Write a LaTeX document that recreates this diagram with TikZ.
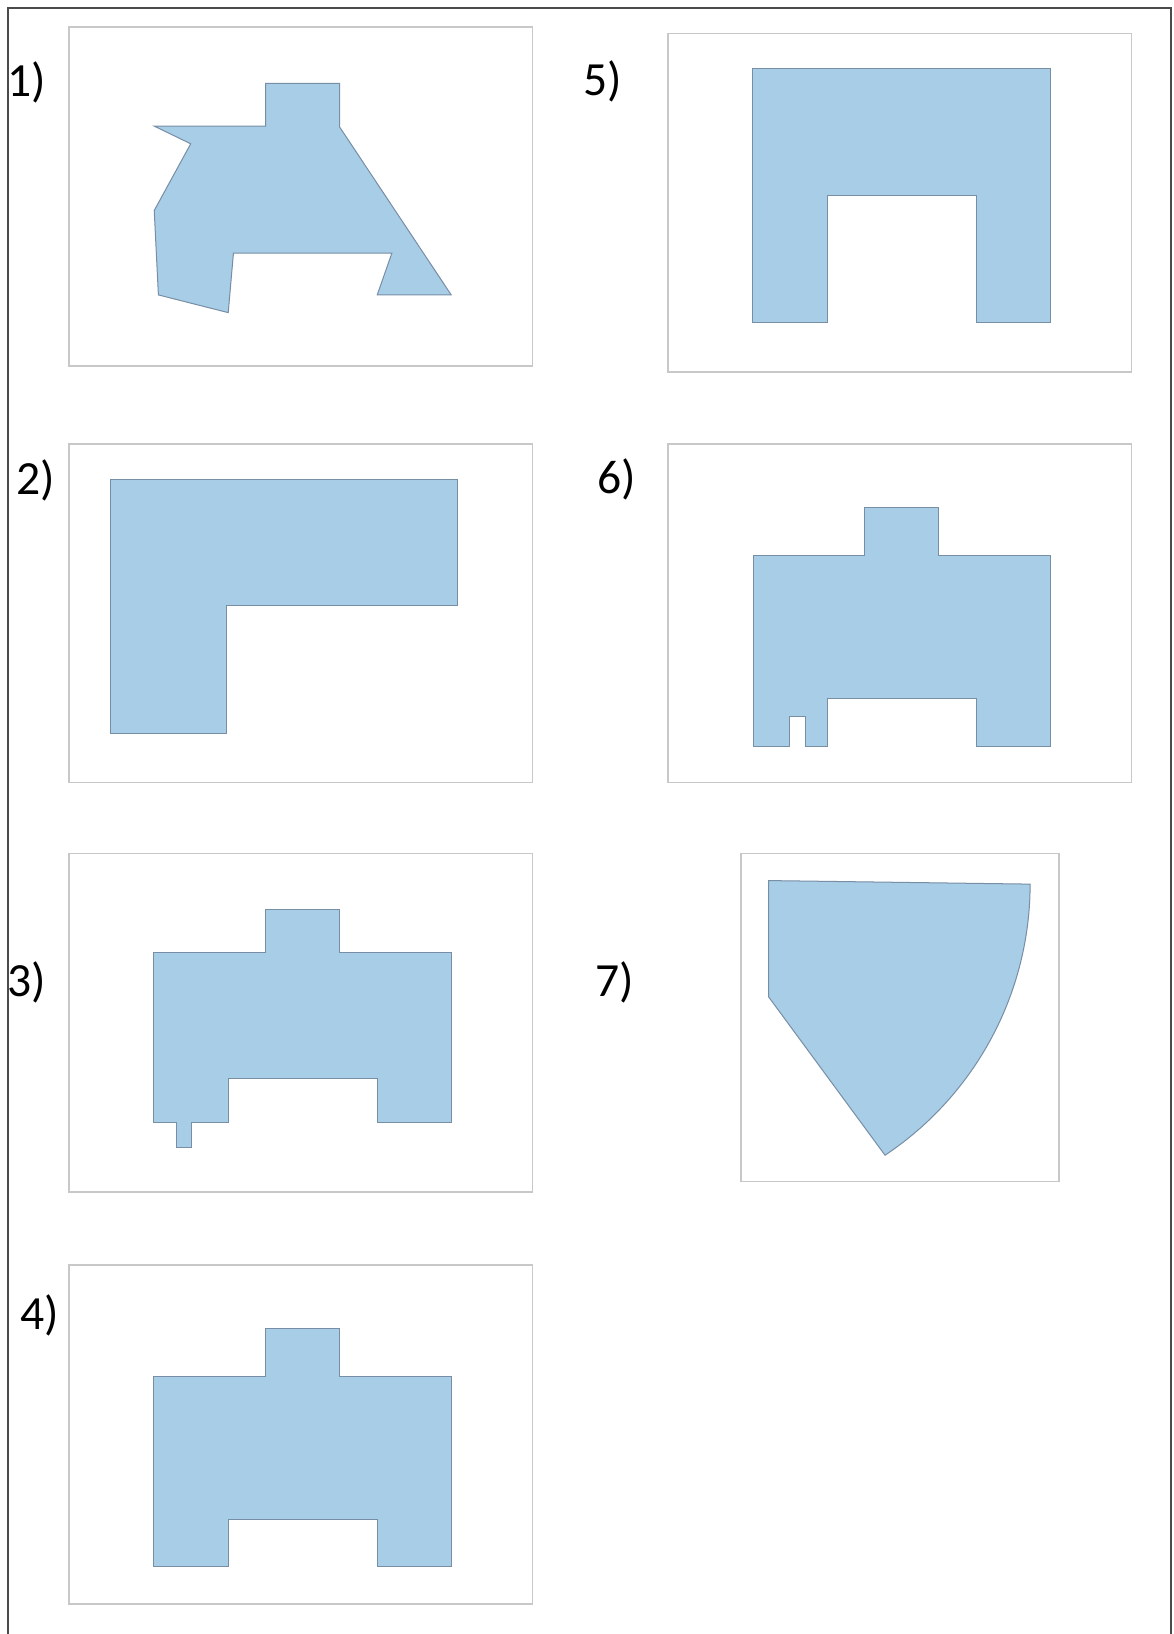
\documentclass[tikz,border=0pt]{standalone}
\usepackage{fontspec}
\setmainfont{Carlito}
\usepackage{tikz}
\definecolor{planfill}{RGB}{167,205,231}
\definecolor{planline}{RGB}{120,142,165}
\definecolor{boxline}{RGB}{200,200,200}
\definecolor{frameline}{RGB}{75,75,75}
\tikzstyle{panel} = [draw=boxline, line width=0.8pt]
\tikzstyle{plan} = [draw=planline, fill=planfill, line width=0.55pt, line join=miter]
\tikzstyle{tag} = [inner sep=0pt, text=black, font=\fontsize{26}{30}\selectfont]
\tikzstyle{frame} = [draw=frameline, line width=1.1pt]

\begin{document}
\begin{tikzpicture}[x=0.02cm, y=-0.02cm]

\useasboundingbox (0,0) rectangle (1126,1568);
\fill[white] (0,0) rectangle (1126,1568);

\draw[frame] (8,1568) -- (8,8) -- (1124,8) -- (1124,1568);

\draw[panel] (66,26) rectangle (511,351);
\draw[panel] (641,32) rectangle (1086,357);
\draw[panel] (66,426) rectangle (511,751);
\draw[panel] (641,426) rectangle (1086,751);
\draw[panel] (66,819) rectangle (511,1144);
\draw[panel] (711,819) rectangle (1016,1134);
\draw[panel] (66,1214) rectangle (511,1539);

\node[tag] (lbl1) at (26,79) {1)};
\node[tag] (lbl5) at (578,78) {5)};
\node[tag] (lbl2) at (34,461) {2)};
\node[tag] (lbl6) at (592,460) {6)};
\node[tag] (lbl3) at (26,943) {3)};
\node[tag] (lbl7) at (590,943) {7)};
\node[tag] (lbl4) at (38,1262) {4)};

\draw[plan] (148,121) -- (255,121) -- (255,80) -- (326,80) -- (326,122) -- (433,283)
  -- (362,283) -- (376,243) -- (224,243) -- (219,300) -- (152,283) -- (148,202)
  -- (183,138) -- cycle;

\draw[plan] (722,66) -- (1008,66) -- (1008,309) -- (937,309) -- (937,188)
  -- (794,188) -- (794,309) -- (722,309) -- cycle;

\draw[plan] (106,460) -- (439,460) -- (439,581) -- (217,581) -- (217,704)
  -- (106,704) -- cycle;

\draw[plan] (723,533) -- (830,533) -- (830,487) -- (901,487) -- (901,533)
  -- (1008,533) -- (1008,716) -- (937,716) -- (937,670) -- (794,670) -- (794,716)
  -- (773,716) -- (773,688) -- (758,688) -- (758,716) -- (723,716) -- cycle;

\draw[plan] (147.5,914) -- (255,914) -- (255,873) -- (326,873) -- (326,914)
  -- (433,914) -- (433,1077) -- (362,1077) -- (362,1035) -- (219.5,1035)
  -- (219.5,1077) -- (183.5,1077) -- (183.5,1101) -- (169,1101) -- (169,1077)
  -- (147.5,1077) -- cycle;

\draw[plan] (737.5,845) -- (988.5,848.4) arc[start angle=0, end angle=56.3, radius=312.7]
  -- (737.5,956.5) -- cycle;

\draw[plan] (147.5,1321) -- (255,1321) -- (255,1275) -- (326,1275) -- (326,1321)
  -- (433,1321) -- (433,1503) -- (362,1503) -- (362,1458) -- (219.5,1458)
  -- (219.5,1503) -- (147.5,1503) -- cycle;

\end{tikzpicture}
\end{document}
